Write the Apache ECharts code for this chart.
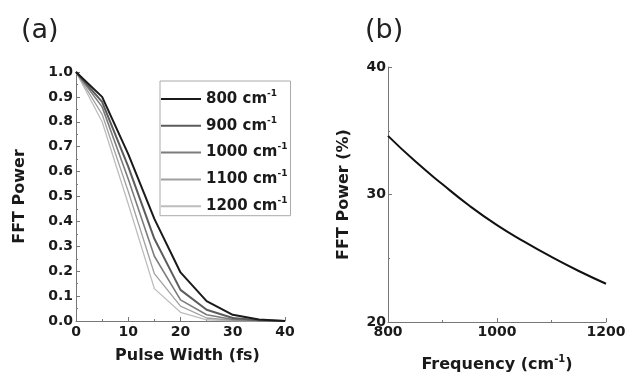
<!DOCTYPE html>
<html>
<head>
<meta charset="utf-8">
<script src="https://cdn.jsdelivr.net/npm/echarts@6/dist/echarts.min.js"></script>
<style>
  html, body { margin: 0; padding: 0; background: #fff; }
  #chart { width: 628px; height: 373px; }
</style>
</head>
<body>
<div id="chart"></div>
<script>
// panel (a): FFT power vs pulse width, one curve per frequency
const pulseWidths = [0, 5, 10, 15, 20, 25, 30, 35, 40]
const freqNames = ['800', '900', '1000', '1100', '1200']
const power800 = [1.0, 0.9, 0.67, 0.41, 0.195, 0.08, 0.025, 0.006, 0.0]
const power900 = [1.0, 0.88, 0.62, 0.33, 0.125, 0.045, 0.012, 0.003, 0.0]
const power1000 = [1.0, 0.86, 0.57, 0.26, 0.085, 0.025, 0.006, 0.001, 0.0]
const power1100 = [1.0, 0.83, 0.52, 0.19, 0.06, 0.012, 0.003, 0.0, 0.0]
const power1200 = [1.0, 0.8, 0.47, 0.13, 0.035, 0.005, 0.001, 0.0, 0.0]

// panel (b): FFT power (%) vs frequency
const frequencies = [800, 850, 900, 950, 1000, 1050, 1100, 1150, 1200]
const powerPercent = [34.6, 32.6, 30.8, 29.1, 27.6, 26.3, 25.1, 24.0, 23.0]

const FONT = 'DejaVu Sans'
const curveColors = ['#1a1a1a', '#5c5c5c', '#7c7c7c', '#a0a0a0', '#bdbdbd']
const curveWidths = [2, 2, 1.6, 1.3, 1.3]
const powers = [power800, power900, power1000, power1100, power1200]

const labelStyle = { fontFamily: FONT, fontWeight: 'bold', fontSize: 14, color: '#1a1a1a' }
const nameStyle = { fontFamily: FONT, fontWeight: 'bold', fontSize: 16, color: '#1a1a1a' }
const supStyle = { fontFamily: FONT, fontWeight: 'bold', fontSize: 9, color: '#1a1a1a', padding: [0, 0, 11, 0] }
const axisLine = { show: true, lineStyle: { color: '#777', width: 1 } }
const tick = { show: true, inside: true, length: 4, lineStyle: { color: '#777' } }
const minor = { show: true, splitNumber: 2, length: 2, lineStyle: { color: '#777' } }

function pairs (xs, ys) {
  return xs.map((x, i) => [x, ys[i]])
}

const chart = echarts.init(document.getElementById('chart'))

const option = {
  animation: false,
  backgroundColor: '#fff',
  title: [
    { text: '(a)', left: 16, top: 12, textStyle: { fontFamily: FONT, fontWeight: 'normal', fontSize: 27, color: '#222' } },
    { text: '(b)', left: 360, top: 12, textStyle: { fontFamily: FONT, fontWeight: 'normal', fontSize: 27, color: '#222' } }
  ],
  grid: [
    { left: 76, top: 72, width: 209, height: 249, outerBoundsMode: 'none' },
    { left: 388, top: 67, width: 218, height: 255, outerBoundsMode: 'none' }
  ],
  legend: {
    left: 160,
    top: 81,
    orient: 'vertical',
    data: freqNames,
    itemWidth: 40,
    itemHeight: 14,
    itemGap: 9.3,
    padding: [8, 3, 2, 0],
    borderColor: '#aaa',
    borderWidth: 1,
    itemStyle: { opacity: 0 },
    formatter: (name) => `{a|${name} cm}{s|-1}`,
    textStyle: {
      rich: {
        a: { fontFamily: FONT, fontWeight: 'bold', fontSize: 15, color: '#1a1a1a', lineHeight: 16 },
        s: supStyle
      }
    }
  },
  xAxis: [
    {
      gridIndex: 0,
      type: 'value',
      min: 0,
      max: 40,
      interval: 10,
      name: 'Pulse Width (fs)',
      nameLocation: 'middle',
      nameGap: 27,
      nameTextStyle: Object.assign({}, nameStyle, { padding: [0, 0, 0, 14] }),
      axisLine: axisLine,
      axisTick: tick,
      minorTick: minor,
      splitLine: { show: false },
      axisLabel: Object.assign({ margin: 4 }, labelStyle)
    },
    {
      gridIndex: 1,
      type: 'value',
      min: 800,
      max: 1200,
      interval: 200,
      name: '{a|Frequency (cm}{s|-1}{a|)}',
      nameLocation: 'middle',
      nameGap: 32,
      nameTextStyle: {
        rich: {
          a: nameStyle,
          s: Object.assign({}, supStyle, { fontSize: 10 })
        }
      },
      axisLine: axisLine,
      axisTick: tick,
      minorTick: minor,
      splitLine: { show: false },
      axisLabel: Object.assign({ margin: 3, formatter: (v) => String(v) }, labelStyle)
    }
  ],
  yAxis: [
    {
      gridIndex: 0,
      type: 'value',
      min: 0,
      max: 1,
      interval: 0.1,
      name: 'FFT Power',
      nameLocation: 'middle',
      nameGap: 48,
      nameTextStyle: nameStyle,
      axisLine: axisLine,
      axisTick: tick,
      minorTick: minor,
      splitLine: { show: false },
      axisLabel: Object.assign({ margin: 3, formatter: (v) => v.toFixed(1) }, labelStyle)
    },
    {
      gridIndex: 1,
      type: 'value',
      min: 20,
      max: 40,
      interval: 10,
      name: 'FFT Power (%)',
      nameLocation: 'middle',
      nameGap: 36,
      nameTextStyle: nameStyle,
      axisLine: axisLine,
      axisTick: tick,
      minorTick: minor,
      splitLine: { show: false },
      axisLabel: Object.assign({ margin: 2 }, labelStyle)
    }
  ],
  series: freqNames.map((name, i) => ({
    name: name,
    type: 'line',
    xAxisIndex: 0,
    yAxisIndex: 0,
    symbol: 'none',
    color: curveColors[i],
    lineStyle: { color: curveColors[i], width: curveWidths[i] },
    data: pairs(pulseWidths, powers[i]),
    z: 10 - i
  })).concat([
    {
      name: 'FFT Power (%)',
      type: 'line',
      xAxisIndex: 1,
      yAxisIndex: 1,
      symbol: 'none',
      smooth: true,
      color: '#111',
      lineStyle: { color: '#111', width: 2 },
      data: pairs(frequencies, powerPercent)
    }
  ])
}

chart.setOption(option)
</script>
</body>
</html>
